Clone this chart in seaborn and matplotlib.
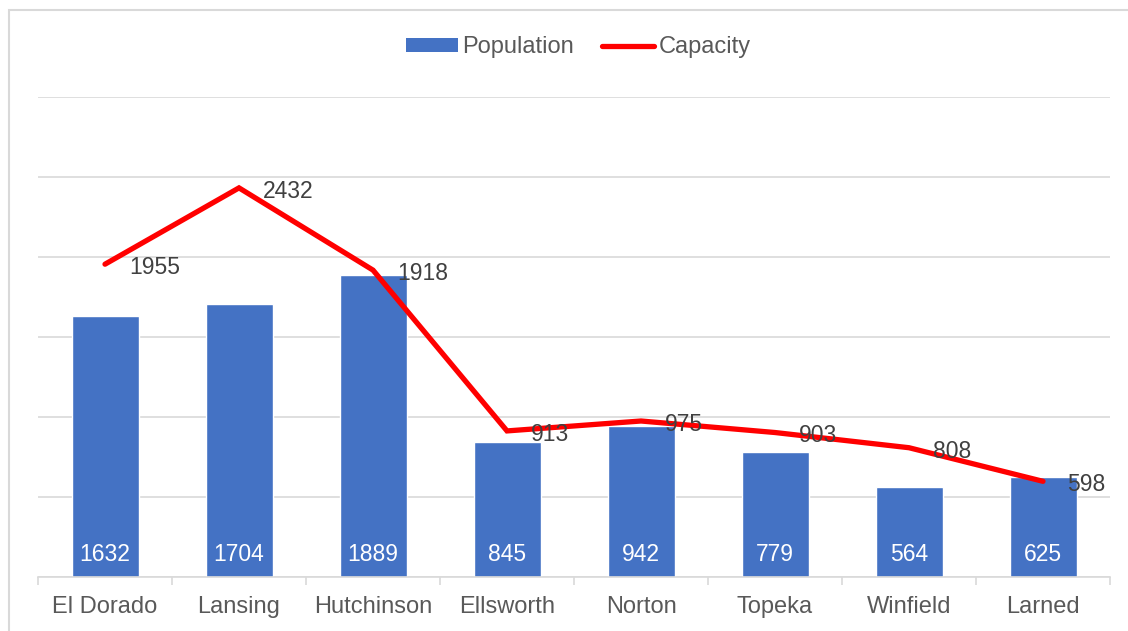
import matplotlib
matplotlib.use("Agg")
import matplotlib.pyplot as plt
import seaborn as sns
import numpy as np
import pandas as pd
from matplotlib.patches import Rectangle
from matplotlib.lines import Line2D

categories = ["El Dorado", "Lansing", "Hutchinson", "Ellsworth", "Norton", "Topeka", "Winfield", "Larned"]
population = [1632, 1704, 1889, 845, 942, 779, 564, 625]
capacity = [1955, 2432, 1918, 913, 975, 903, 808, 598]

sns.set_theme(style="white")
plt.rcParams["font.family"] = ["Liberation Sans", "DejaVu Sans"]

W, H = 1128, 631
fig = plt.figure(figsize=(W / 100, H / 100), dpi=100)
ax = fig.add_axes([38 / W, (H - 577) / H, (1110 - 38) / W, (577 - 97) / H])

df = pd.DataFrame({"City": categories, "Population": population, "Capacity": capacity})
bar_color = "#4472C4"
sns.barplot(data=df, x="City", y="Population", color=bar_color, width=0.5,
            saturation=1, ax=ax, zorder=2)
pos = np.arange(len(categories))
sns.lineplot(x=pos, y=capacity, color="#FF0000", linewidth=3.8, ax=ax, zorder=3,
             solid_capstyle="round", solid_joinstyle="miter")

ax.set_ylim(0, 3000)
ax.set_xlim(-0.5, len(categories) - 0.5)
ax.set_yticks(np.arange(0, 3001, 500))
ax.yaxis.grid(True, color="#D9D9D9", linewidth=1.2, zorder=0)
ax.set_axisbelow(True)
ax.tick_params(axis="y", left=False, labelleft=False)
ax.set_xlabel("")
ax.set_ylabel("")
for s in ["top", "right", "left"]:
    ax.spines[s].set_visible(False)
ax.spines["bottom"].set_color("#D9D9D9")
ax.spines["bottom"].set_linewidth(1.2)

ax.set_xticks(pos)
ax.set_xticklabels(categories, fontsize=17, color="#595959")
ax.tick_params(axis="x", length=0, pad=14)
ax.set_xticks(np.arange(-0.5, len(categories)), minor=True)
ax.tick_params(axis="x", which="minor", length=6, color="#D9D9D9", width=1.2, direction="out", bottom=True)

for p, v in zip(pos, population):
    ax.annotate(str(v), (p, 0), xytext=(0, 16.5), textcoords="offset points",
                ha="center", va="center", color="white", fontsize=16.5, zorder=4)
for p, v in zip(pos, capacity):
    ax.annotate(str(v), (p, v), xytext=(17.5, -2.5), textcoords="offset points",
                ha="left", va="center", color="#404040", fontsize=16.5, zorder=4)

handles = [Rectangle((0, 0), 1, 1, facecolor=bar_color, edgecolor="none"),
           Line2D([0], [0], color="#FF0000", linewidth=3.8, solid_capstyle="round")]
fig.legend(handles, ["Population", "Capacity"], loc="center",
           bbox_to_anchor=(578.5 / W, 1 - 47.5 / H),
           ncol=2, frameon=False, fontsize=17, labelcolor="#595959",
           handlelength=2.2, handleheight=0.55, handletextpad=0.2, columnspacing=1.2)

fig.patches.append(Rectangle((9 / W, -0.1), 2.0, 1 - 10 / H + 0.1, transform=fig.transFigure,
                             facecolor="none", edgecolor="#D9D9D9", linewidth=1.5))

fig.savefig("out.png", dpi=100, facecolor="white")
